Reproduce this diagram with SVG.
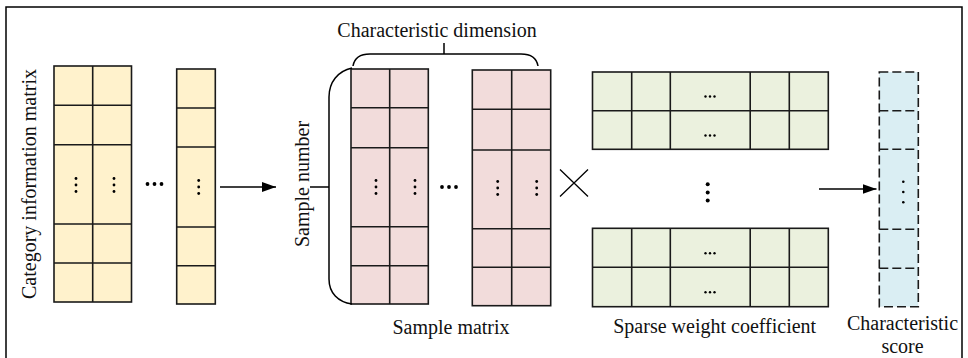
<svg xmlns="http://www.w3.org/2000/svg" width="968" height="358" viewBox="0 0 968 358">
  <style>
    .grid { stroke: #1a1a1a; stroke-width: 1.6; }
    .yellow { fill: #FFF2CC; }
    .pink { fill: #F2DCDB; }
    .green { fill: #EBF1DE; }
    .blue { fill: #DAEEF3; }
    .dash { stroke: #1a1a1a; stroke-width: 1.6; stroke-dasharray: 9 4; fill: none; }
    .line { stroke: #000; stroke-width: 1.5; fill: none; }
    .dot { fill: #000; }
    .label { font-family: "Liberation Serif", "Times New Roman", serif; font-size: 20px; fill: #111; }
  </style>
  <defs>
    <marker id="arrow" viewBox="0 0 14 10" refX="14" refY="5" markerWidth="14" markerHeight="10" markerUnits="userSpaceOnUse" orient="auto">
      <path d="M0,0 L14,5 L0,10 z" fill="#000"/>
    </marker>
    <g id="vdots">
      <circle cx="0" cy="-6.5" r="1.4"/>
      <circle cx="0" cy="0" r="1.4"/>
      <circle cx="0" cy="6.5" r="1.4"/>
    </g>
    <g id="hdots">
      <circle cx="-7" cy="0" r="1.9"/>
      <circle cx="0" cy="0" r="1.9"/>
      <circle cx="7" cy="0" r="1.9"/>
    </g>
    <g id="ell">
      <circle cx="-4.5" cy="0" r="1.2"/>
      <circle cx="0" cy="0" r="1.2"/>
      <circle cx="4.5" cy="0" r="1.2"/>
    </g>
  </defs>

  <!-- frame -->
  <path d="M6,362 L6,7 L962,7 L962,362" class="line" stroke-width="1.8"/>

  <!-- category information matrix -->
  <g id="category-matrix">
    <text class="label" transform="translate(36,184) rotate(-90)" text-anchor="middle">Category information matrix</text>
    <g class="grid">
      <rect x="54" y="66" width="77.5" height="236" class="yellow"/>
      <path d="M92.7,66 V302 M54,105.3 H131.5 M54,144.7 H131.5 M54,224 H131.5 M54,263 H131.5"/>
      <rect x="176.7" y="69" width="38.6" height="235" class="yellow"/>
      <path d="M176.7,108 H215.3 M176.7,147 H215.3 M176.7,227 H215.3 M176.7,265.7 H215.3"/>
    </g>
    <g class="dot">
      <use href="#vdots" x="76" y="185"/>
      <use href="#vdots" x="114" y="185"/>
      <use href="#vdots" x="198.7" y="187"/>
      <use href="#hdots" x="154.5" y="184"/>
    </g>
  </g>

  <!-- sample matrix -->
  <g id="sample-matrix">
    <g class="grid">
      <rect x="351" y="69" width="77.3" height="235" class="pink"/>
      <path d="M389.7,69 V304 M351,107.7 H428.3 M351,147.7 H428.3 M351,226.7 H428.3 M351,265.7 H428.3"/>
      <rect x="472.3" y="70" width="78.4" height="235.7" class="pink"/>
      <path d="M511.7,70 V305.7 M472.3,109.3 H550.7 M472.3,150 H550.7 M472.3,228.7 H550.7 M472.3,267.3 H550.7"/>
    </g>
    <g class="dot">
      <use href="#vdots" x="376" y="187"/>
      <use href="#vdots" x="415" y="187"/>
      <use href="#vdots" x="497.7" y="188"/>
      <use href="#vdots" x="536.7" y="188"/>
      <use href="#hdots" x="449" y="187"/>
    </g>
    <text class="label" x="451" y="334" text-anchor="middle">Sample matrix</text>
  </g>

  <!-- dimension braces -->
  <g id="braces">
    <path class="line" d="M353,66 Q355,54 370,54 L521,54 Q536,54 538,66 M444,54 V43"/>
    <text class="label" x="437" y="36.5" text-anchor="middle">Characteristic dimension</text>
    <path class="line" d="M352,68 C338,71 329,82 329,97 L329,279 C329,293 338,302 352,304 M329,187 H310"/>
    <text class="label" transform="translate(309,184) rotate(-90)" text-anchor="middle">Sample number</text>
  </g>

  <!-- multiplication sign -->
  <g id="times">
    <path d="M560,169.5 L588,196.5 M560,196.5 L588,169.5" stroke="#000" stroke-width="1.3"/>
  </g>

  <!-- sparse weight coefficient -->
  <g id="weight-matrix">
    <g class="grid">
      <rect x="592.5" y="72" width="235.8" height="77.3" class="green"/>
      <path d="M631.7,72 V149.3 M670.3,72 V149.3 M750.2,72 V149.3 M789.3,72 V149.3 M592.5,110.7 H828.3"/>
      <rect x="592.5" y="228.3" width="235.8" height="78.4" class="green"/>
      <path d="M631.7,228.3 V306.7 M670.3,228.3 V306.7 M750.2,228.3 V306.7 M789.3,228.3 V306.7 M592.5,267.3 H828.3"/>
    </g>
    <g class="dot">
      <use href="#ell" x="710" y="96.5"/>
      <use href="#ell" x="710" y="135.5"/>
      <use href="#ell" x="710" y="253.3"/>
      <use href="#ell" x="710" y="292.3"/>
      <circle cx="707.7" cy="184.3" r="2"/>
      <circle cx="707.7" cy="192.4" r="2"/>
      <circle cx="707.7" cy="200.6" r="2"/>
    </g>
    <text class="label" x="714.7" y="333.3" text-anchor="middle">Sparse weight coefficient</text>
  </g>

  <!-- characteristic score -->
  <g id="score-vector">
    <rect x="879.3" y="72" width="39" height="234.7" class="blue"/>
    <rect x="879.3" y="72" width="39" height="234.7" class="dash"/>
    <path class="dash" d="M879.3,110.7 H918.3 M879.3,149.3 H918.3 M879.3,229.3 H918.3 M879.3,268.3 H918.3"/>
    <g class="dot">
      <circle cx="903.3" cy="181.8" r="1.3"/>
      <circle cx="903.3" cy="192" r="1.3"/>
      <circle cx="903.3" cy="202.3" r="1.3"/>
    </g>
    <text class="label" x="902.5" y="330" text-anchor="middle">Characteristic</text>
    <text class="label" x="902.5" y="353" text-anchor="middle">score</text>
  </g>

  <!-- connectors -->
  <g id="connectors">
    <path class="line" d="M220,187 H276" marker-end="url(#arrow)"/>
    <path class="line" d="M819,189 H876.5" marker-end="url(#arrow)"/>
  </g>
</svg>
